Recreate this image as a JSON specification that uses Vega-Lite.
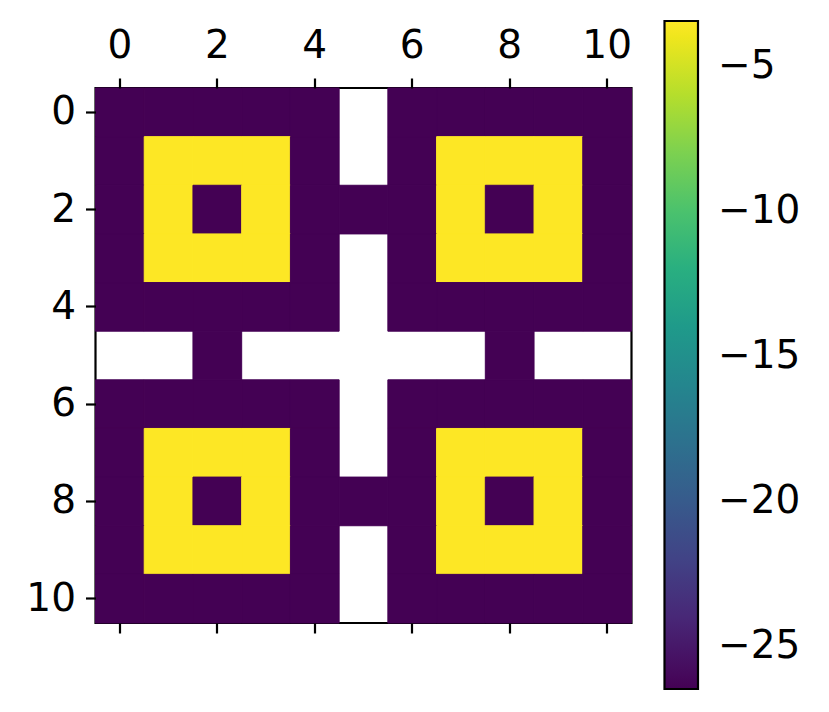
{
  "$schema": "https://vega.github.io/schema/vega-lite/v6.json",
  "width": 536,
  "height": 535,
  "autosize": {"type": "none"},
  "padding": {"left": 95.5, "top": 88, "right": 197.5, "bottom": 89},
  "background": "white",
  "config": {
    "view": {"stroke": "black", "strokeWidth": 2.2},
    "axis": {
      "labelFont": "DejaVu Sans",
      "labelFontSize": 39,
      "labelColor": "black",
      "tickColor": "black",
      "tickWidth": 2.2,
      "tickSize": 10,
      "labelPadding": 10,
      "domain": false,
      "grid": false,
      "title": null,
      "labelAngle": 0
    },
    "legend": {
      "labelFont": "DejaVu Sans",
      "labelFontSize": 39,
      "labelColor": "black"
    }
  },
  "data": {
    "values": [
      {"r":0,"c":0,"v":-26.5},{"r":0,"c":1,"v":-26.5},{"r":0,"c":2,"v":-26.5},{"r":0,"c":3,"v":-26.5},{"r":0,"c":4,"v":-26.5},{"r":0,"c":6,"v":-26.5},{"r":0,"c":7,"v":-26.5},{"r":0,"c":8,"v":-26.5},{"r":0,"c":9,"v":-26.5},{"r":0,"c":10,"v":-26.5},
      {"r":1,"c":0,"v":-26.5},{"r":1,"c":1,"v":-3.45},{"r":1,"c":2,"v":-3.45},{"r":1,"c":3,"v":-3.45},{"r":1,"c":4,"v":-26.5},{"r":1,"c":6,"v":-26.5},{"r":1,"c":7,"v":-3.45},{"r":1,"c":8,"v":-3.45},{"r":1,"c":9,"v":-3.45},{"r":1,"c":10,"v":-26.5},
      {"r":2,"c":0,"v":-26.5},{"r":2,"c":1,"v":-3.45},{"r":2,"c":2,"v":-26.5},{"r":2,"c":3,"v":-3.45},{"r":2,"c":4,"v":-26.5},{"r":2,"c":5,"v":-26.5},{"r":2,"c":6,"v":-26.5},{"r":2,"c":7,"v":-3.45},{"r":2,"c":8,"v":-26.5},{"r":2,"c":9,"v":-3.45},{"r":2,"c":10,"v":-26.5},
      {"r":3,"c":0,"v":-26.5},{"r":3,"c":1,"v":-3.45},{"r":3,"c":2,"v":-3.45},{"r":3,"c":3,"v":-3.45},{"r":3,"c":4,"v":-26.5},{"r":3,"c":6,"v":-26.5},{"r":3,"c":7,"v":-3.45},{"r":3,"c":8,"v":-3.45},{"r":3,"c":9,"v":-3.45},{"r":3,"c":10,"v":-26.5},
      {"r":4,"c":0,"v":-26.5},{"r":4,"c":1,"v":-26.5},{"r":4,"c":2,"v":-26.5},{"r":4,"c":3,"v":-26.5},{"r":4,"c":4,"v":-26.5},{"r":4,"c":6,"v":-26.5},{"r":4,"c":7,"v":-26.5},{"r":4,"c":8,"v":-26.5},{"r":4,"c":9,"v":-26.5},{"r":4,"c":10,"v":-26.5},
      {"r":5,"c":2,"v":-26.5},{"r":5,"c":8,"v":-26.5},
      {"r":6,"c":0,"v":-26.5},{"r":6,"c":1,"v":-26.5},{"r":6,"c":2,"v":-26.5},{"r":6,"c":3,"v":-26.5},{"r":6,"c":4,"v":-26.5},{"r":6,"c":6,"v":-26.5},{"r":6,"c":7,"v":-26.5},{"r":6,"c":8,"v":-26.5},{"r":6,"c":9,"v":-26.5},{"r":6,"c":10,"v":-26.5},
      {"r":7,"c":0,"v":-26.5},{"r":7,"c":1,"v":-3.45},{"r":7,"c":2,"v":-3.45},{"r":7,"c":3,"v":-3.45},{"r":7,"c":4,"v":-26.5},{"r":7,"c":6,"v":-26.5},{"r":7,"c":7,"v":-3.45},{"r":7,"c":8,"v":-3.45},{"r":7,"c":9,"v":-3.45},{"r":7,"c":10,"v":-26.5},
      {"r":8,"c":0,"v":-26.5},{"r":8,"c":1,"v":-3.45},{"r":8,"c":2,"v":-26.5},{"r":8,"c":3,"v":-3.45},{"r":8,"c":4,"v":-26.5},{"r":8,"c":5,"v":-26.5},{"r":8,"c":6,"v":-26.5},{"r":8,"c":7,"v":-3.45},{"r":8,"c":8,"v":-26.5},{"r":8,"c":9,"v":-3.45},{"r":8,"c":10,"v":-26.5},
      {"r":9,"c":0,"v":-26.5},{"r":9,"c":1,"v":-3.45},{"r":9,"c":2,"v":-3.45},{"r":9,"c":3,"v":-3.45},{"r":9,"c":4,"v":-26.5},{"r":9,"c":6,"v":-26.5},{"r":9,"c":7,"v":-3.45},{"r":9,"c":8,"v":-3.45},{"r":9,"c":9,"v":-3.45},{"r":9,"c":10,"v":-26.5},
      {"r":10,"c":0,"v":-26.5},{"r":10,"c":1,"v":-26.5},{"r":10,"c":2,"v":-26.5},{"r":10,"c":3,"v":-26.5},{"r":10,"c":4,"v":-26.5},{"r":10,"c":6,"v":-26.5},{"r":10,"c":7,"v":-26.5},{"r":10,"c":8,"v":-26.5},{"r":10,"c":9,"v":-26.5},{"r":10,"c":10,"v":-26.5}
    ]
  },
  "layer": [
    {
      "mark": {"type": "rect", "strokeWidth": 1},
      "encoding": {
        "x": {
          "field": "c", "type": "ordinal",
          "scale": {"domain": [0,1,2,3,4,5,6,7,8,9,10], "paddingInner": 0, "paddingOuter": 0},
          "axis": {"orient": "top", "values": [0,2,4,6,8,10], "labelPadding": 13}
        },
        "y": {
          "field": "r", "type": "ordinal",
          "scale": {"domain": [0,1,2,3,4,5,6,7,8,9,10], "paddingInner": 0, "paddingOuter": 0},
          "axis": {"orient": "left", "values": [0,2,4,6,8,10]}
        },
        "color": {
          "field": "v", "type": "quantitative",
          "scale": {"scheme": "viridis", "domain": [-26.5, -3.45], "nice": false, "zero": false},
          "legend": {
            "title": null,
            "orient": "none",
            "direction": "vertical",
            "legendX": 569,
            "legendY": -67,
            "padding": 0,
            "gradientLength": 668,
            "gradientThickness": 33.5,
            "gradientStrokeColor": "black",
            "gradientStrokeWidth": 2.2,
            "values": [-25, -20, -15, -10, -5],
            "labelOffset": 20,
            "labelOverlap": false
          }
        },
        "stroke": {
          "condition": {"test": "datum.v > -15", "value": "#fde725"},
          "value": "#440154"
        }
      }
    },
    {
      "mark": {"type": "rect", "opacity": 0},
      "encoding": {
        "x": {
          "field": "c", "type": "ordinal",
          "axis": {"orient": "bottom", "values": [0,2,4,6,8,10], "labels": false}
        },
        "y": {"field": "r", "type": "ordinal"}
      }
    }
  ],
  "resolve": {"axis": {"x": "independent"}}
}
